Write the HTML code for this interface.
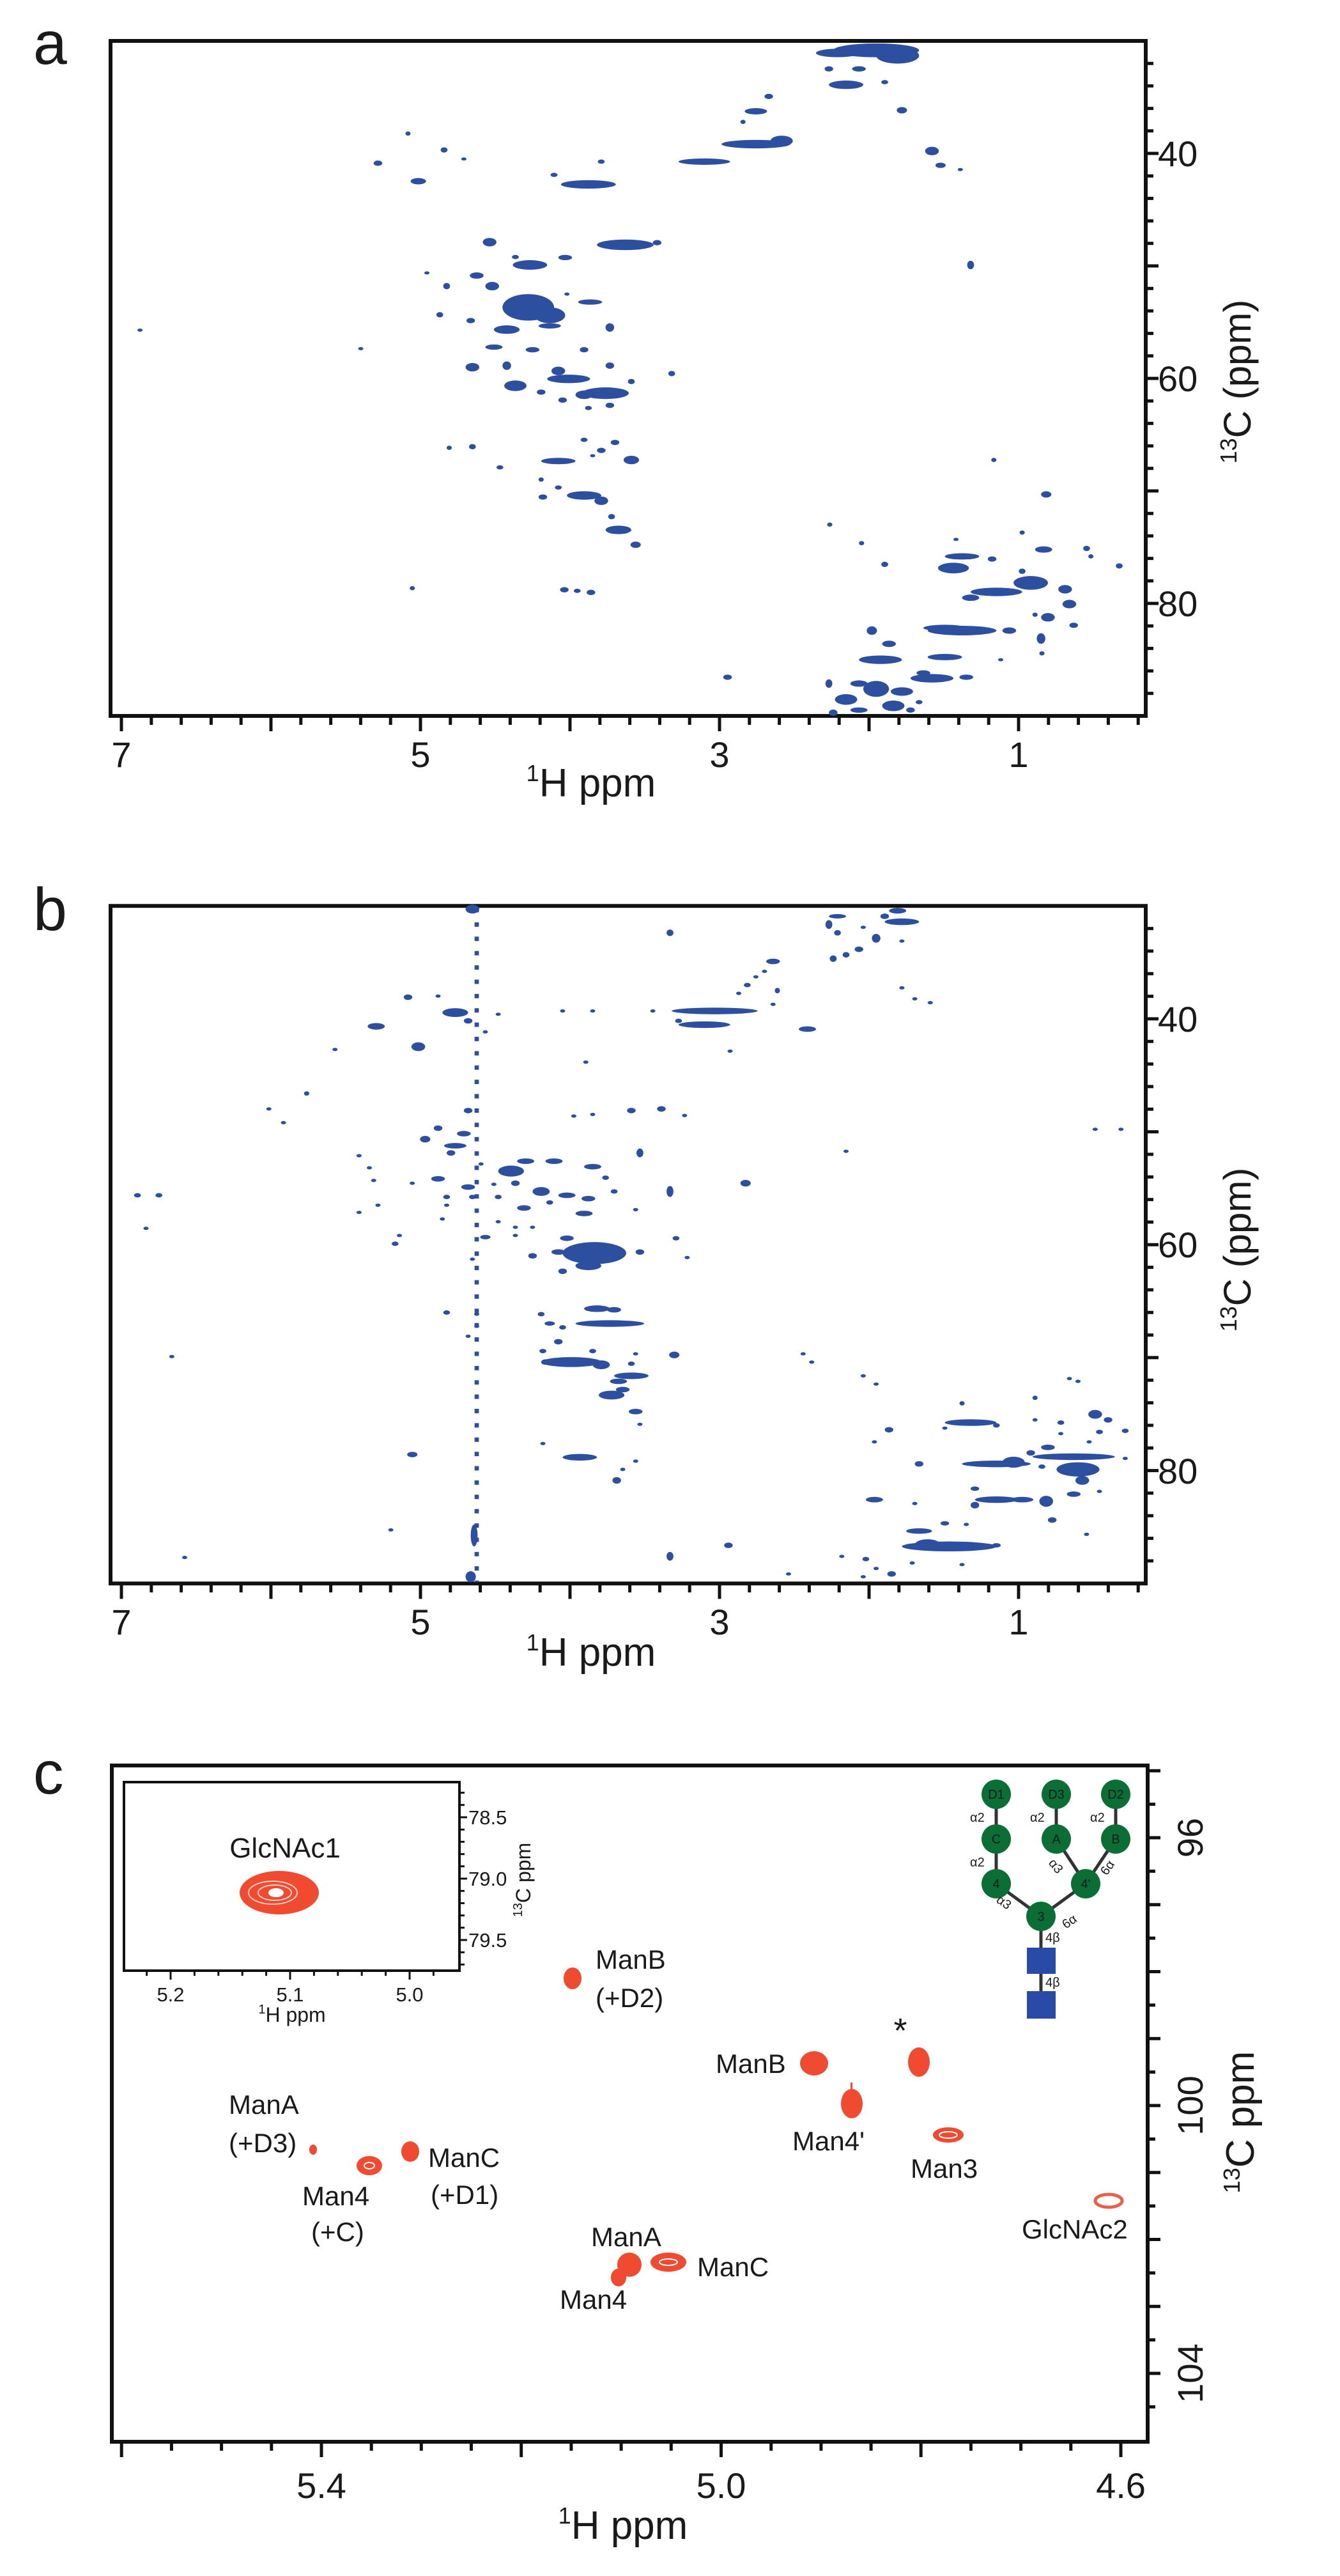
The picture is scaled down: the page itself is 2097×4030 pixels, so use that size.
<!DOCTYPE html>
<html><head><meta charset="utf-8"><style>
html,body{margin:0;padding:0;background:#fff}
svg{display:block}
text{font-family:"Liberation Sans",sans-serif;fill:#1a1a1a}
</style></head><body>
<svg width="2097" height="4030" viewBox="0 0 2097 4030" xmlns="http://www.w3.org/2000/svg">
<rect width="2097" height="4030" fill="#fff"/>
<defs>
<g id="axAB">
<rect x="173" y="64" width="1620" height="1056" fill="none" stroke="#111" stroke-width="6"/>
<path stroke="#111" stroke-width="5" fill="none" d="M190 1120v24M236.8 1120v14M283.6 1120v14M330.4 1120v14M377.2 1120v14M424 1120v24M470.8 1120v14M517.6 1120v14M564.4 1120v14M611.2 1120v14M658 1120v24M704.8 1120v14M751.6 1120v14M798.4 1120v14M845.2 1120v14M892 1120v24M938.8 1120v14M985.6 1120v14M1032.4 1120v14M1079.2 1120v14M1126 1120v24M1172.8 1120v14M1219.6 1120v14M1266.4 1120v14M1313.2 1120v14M1360 1120v24M1406.8 1120v14M1453.6 1120v14M1500.4 1120v14M1547.2 1120v14M1594 1120v24M1640.8 1120v14M1687.6 1120v14M1734.4 1120v14M1781.2 1120v14
M1793 99.2h12M1793 134.4h12M1793 169.6h12M1793 204.8h12M1793 240h20M1793 275.2h12M1793 310.4h12M1793 345.6h12M1793 380.8h12M1793 416h20M1793 451.2h12M1793 486.4h12M1793 521.6h12M1793 556.8h12M1793 592h20M1793 627.2h12M1793 662.4h12M1793 697.6h12M1793 732.8h12M1793 768h20M1793 803.2h12M1793 838.4h12M1793 873.6h12M1793 908.8h12M1793 944h20M1793 979.2h12M1793 1014.4h12M1793 1049.6h12M1793 1084.8h12"/>
</g>
</defs>

<!-- PANEL A -->
<text x="52" y="100" font-size="95">a</text>
<use href="#axAB"/>
<g font-size="56" text-anchor="middle">
<text x="190" y="1200">7</text><text x="658" y="1200">5</text><text x="1126" y="1200">3</text><text x="1594" y="1200">1</text>
</g>
<g font-size="56"><text x="1812" y="260">40</text><text x="1812" y="612">60</text><text x="1812" y="964">80</text></g>
<text x="925" y="1246" font-size="62" text-anchor="middle"><tspan font-size="36" dy="-24">1</tspan><tspan dy="24">H ppm</tspan></text>
<text transform="translate(1957,597) rotate(-90)" font-size="60" text-anchor="middle"><tspan font-size="36" dy="-22">13</tspan><tspan dy="22">C (ppm)</tspan></text>

<g fill="#2c4f9f" transform="scale(1.3442,0.829)">
<ellipse cx="1020" cy="95" rx="50" ry="13"/><ellipse cx="1045" cy="105" rx="25" ry="15"/><ellipse cx="975" cy="100" rx="25" ry="8"/><ellipse cx="965" cy="130" rx="5" ry="5"/><ellipse cx="1000" cy="130" rx="8" ry="5"/>
<ellipse cx="985" cy="160" rx="20" ry="8"/><ellipse cx="1030" cy="155" rx="4" ry="4"/><ellipse cx="1050" cy="208" rx="6" ry="6"/>
<ellipse cx="895" cy="182" rx="5" ry="5"/><ellipse cx="880" cy="210" rx="13" ry="6"/><ellipse cx="865" cy="230" rx="3" ry="4"/>
<ellipse cx="880" cy="272" rx="40" ry="8"/><ellipse cx="820" cy="305" rx="30" ry="6"/><ellipse cx="910" cy="266" rx="13" ry="10"/>
<ellipse cx="1085" cy="285" rx="8" ry="8"/><ellipse cx="1095" cy="312" rx="6" ry="5"/><ellipse cx="1118" cy="320" rx="3" ry="3"/>
<ellipse cx="475" cy="252" rx="3" ry="4"/><ellipse cx="517" cy="283" rx="4" ry="5"/><ellipse cx="540" cy="300" rx="3" ry="3"/><ellipse cx="440" cy="308" rx="5" ry="5"/>
<ellipse cx="487" cy="342" rx="9" ry="6"/><ellipse cx="685" cy="348" rx="32" ry="8"/><ellipse cx="645" cy="330" rx="4" ry="4"/><ellipse cx="700" cy="305" rx="4" ry="4"/>
<ellipse cx="570" cy="457" rx="8" ry="8"/><ellipse cx="728" cy="462" rx="33" ry="10"/><ellipse cx="765" cy="458" rx="5" ry="5"/>
<ellipse cx="617" cy="500" rx="20" ry="9"/><ellipse cx="658" cy="486" rx="8" ry="5"/><ellipse cx="600" cy="485" rx="4" ry="4"/>
<ellipse cx="497" cy="515" rx="3" ry="3"/><ellipse cx="555" cy="520" rx="8" ry="6"/><ellipse cx="573" cy="540" rx="8" ry="8"/><ellipse cx="520" cy="540" rx="4" ry="6"/>
<ellipse cx="615" cy="580" rx="30" ry="25"/><ellipse cx="640" cy="595" rx="18" ry="15"/><ellipse cx="687" cy="570" rx="14" ry="5"/><ellipse cx="660" cy="555" rx="3" ry="3"/>
<ellipse cx="512" cy="594" rx="4" ry="5"/><ellipse cx="548" cy="605" rx="5" ry="5"/><ellipse cx="590" cy="622" rx="15" ry="8"/><ellipse cx="640" cy="615" rx="13" ry="5"/><ellipse cx="710" cy="618" rx="5" ry="8"/>
<ellipse cx="575" cy="655" rx="10" ry="5"/><ellipse cx="620" cy="660" rx="8" ry="5"/><ellipse cx="680" cy="660" rx="5" ry="5"/>
<ellipse cx="420" cy="658" rx="3" ry="3"/><ellipse cx="163" cy="623" rx="3" ry="3"/><ellipse cx="782" cy="705" rx="4" ry="5"/>
<ellipse cx="550" cy="693" rx="8" ry="8"/><ellipse cx="590" cy="690" rx="5" ry="8"/><ellipse cx="650" cy="700" rx="8" ry="8"/><ellipse cx="710" cy="690" rx="5" ry="6"/><ellipse cx="735" cy="720" rx="4" ry="5"/>
<ellipse cx="600" cy="728" rx="13" ry="10"/><ellipse cx="662" cy="715" rx="25" ry="8"/><ellipse cx="705" cy="742" rx="27" ry="11"/><ellipse cx="680" cy="745" rx="10" ry="8"/>
<ellipse cx="630" cy="740" rx="5" ry="5"/><ellipse cx="655" cy="755" rx="5" ry="5"/><ellipse cx="685" cy="770" rx="4" ry="4"/><ellipse cx="710" cy="765" rx="5" ry="5"/>
<ellipse cx="523" cy="845" rx="3" ry="4"/><ellipse cx="550" cy="843" rx="4" ry="5"/><ellipse cx="582" cy="882" rx="4" ry="4"/>
<ellipse cx="680" cy="830" rx="4" ry="4"/><ellipse cx="700" cy="850" rx="5" ry="5"/><ellipse cx="716" cy="835" rx="5" ry="5"/><ellipse cx="690" cy="860" rx="3" ry="3"/>
<ellipse cx="650" cy="870" rx="20" ry="6"/><ellipse cx="735" cy="868" rx="9" ry="8"/><ellipse cx="630" cy="905" rx="3" ry="4"/>
<ellipse cx="632" cy="938" rx="5" ry="5"/><ellipse cx="650" cy="920" rx="4" ry="4"/><ellipse cx="680" cy="935" rx="20" ry="8"/><ellipse cx="700" cy="945" rx="8" ry="8"/>
<ellipse cx="712" cy="975" rx="4" ry="5"/><ellipse cx="720" cy="1000" rx="15" ry="8"/><ellipse cx="740" cy="1028" rx="6" ry="6"/>
<ellipse cx="480" cy="1110" rx="3" ry="4"/><ellipse cx="657" cy="1113" rx="5" ry="5"/><ellipse cx="672" cy="1115" rx="4" ry="4"/><ellipse cx="688" cy="1118" rx="5" ry="5"/>
<ellipse cx="966" cy="990" rx="3" ry="4"/><ellipse cx="1003" cy="1025" rx="3" ry="4"/><ellipse cx="1030" cy="1065" rx="4" ry="5"/><ellipse cx="1113" cy="1018" rx="3" ry="3"/>
<ellipse cx="1120" cy="1050" rx="20" ry="6"/><ellipse cx="1110" cy="1072" rx="18" ry="10"/><ellipse cx="1155" cy="1055" rx="5" ry="5"/><ellipse cx="1190" cy="1005" rx="3" ry="4"/><ellipse cx="1218" cy="933" rx="6" ry="6"/><ellipse cx="1157" cy="868" rx="3" ry="4"/><ellipse cx="1130" cy="500" rx="4" ry="8"/>
<ellipse cx="1215" cy="1037" rx="10" ry="6"/><ellipse cx="1265" cy="1035" rx="4" ry="5"/><ellipse cx="1270" cy="1050" rx="3" ry="4"/><ellipse cx="1303" cy="1068" rx="4" ry="5"/>
<ellipse cx="1200" cy="1100" rx="20" ry="13"/><ellipse cx="1190" cy="1078" rx="4" ry="5"/><ellipse cx="1160" cy="1117" rx="30" ry="8"/><ellipse cx="1240" cy="1112" rx="8" ry="8"/>
<ellipse cx="1130" cy="1128" rx="10" ry="6"/><ellipse cx="1245" cy="1140" rx="8" ry="8"/><ellipse cx="1220" cy="1165" rx="8" ry="8"/><ellipse cx="1250" cy="1180" rx="5" ry="5"/><ellipse cx="1205" cy="1160" rx="3" ry="4"/>
<ellipse cx="1120" cy="1190" rx="40" ry="9"/><ellipse cx="1100" cy="1185" rx="25" ry="6"/><ellipse cx="1175" cy="1190" rx="8" ry="6"/><ellipse cx="1212" cy="1205" rx="5" ry="10"/><ellipse cx="1213" cy="1233" rx="3" ry="4"/>
<ellipse cx="1015" cy="1190" rx="6" ry="8"/><ellipse cx="1035" cy="1215" rx="8" ry="6"/><ellipse cx="1025" cy="1245" rx="25" ry="8"/><ellipse cx="1100" cy="1240" rx="20" ry="6"/><ellipse cx="1165" cy="1245" rx="3" ry="3"/>
<ellipse cx="1085" cy="1280" rx="25" ry="8"/><ellipse cx="1075" cy="1270" rx="8" ry="5"/><ellipse cx="1125" cy="1278" rx="8" ry="5"/><ellipse cx="847" cy="1278" rx="5" ry="5"/>
<ellipse cx="965" cy="1290" rx="4" ry="8"/><ellipse cx="1000" cy="1290" rx="10" ry="6"/><ellipse cx="1020" cy="1300" rx="15" ry="15"/><ellipse cx="1050" cy="1305" rx="13" ry="8"/>
<ellipse cx="985" cy="1320" rx="13" ry="10"/><ellipse cx="1040" cy="1332" rx="13" ry="10"/><ellipse cx="970" cy="1345" rx="5" ry="6"/><ellipse cx="1000" cy="1340" rx="10" ry="5"/><ellipse cx="1060" cy="1340" rx="5" ry="5"/><ellipse cx="1070" cy="1325" rx="4" ry="4"/>
</g>

<!-- PANEL B -->
<text x="52" y="1455" font-size="95">b</text>
<use href="#axAB" transform="translate(0,1353) scale(1,1.0038)"/>
<g font-size="56" text-anchor="middle">
<text x="190" y="2557">7</text><text x="658" y="2557">5</text><text x="1126" y="2557">3</text><text x="1594" y="2557">1</text>
</g>
<g font-size="56"><text x="1812" y="1614">40</text><text x="1812" y="1967">60</text><text x="1812" y="2321">80</text></g>
<text x="925" y="2606" font-size="62" text-anchor="middle"><tspan font-size="36" dy="-24">1</tspan><tspan dy="24">H ppm</tspan></text>
<text transform="translate(1957,1955) rotate(-90)" font-size="60" text-anchor="middle"><tspan font-size="36" dy="-22">13</tspan><tspan dy="22">C (ppm)</tspan></text>

<g fill="#2c4f9f" transform="translate(0,1300) scale(1.3442,0.861)">
<line x1="555" y1="140" x2="555" y2="1365" stroke="#2c4f9f" stroke-width="5" stroke-dasharray="8 18"/>
<ellipse cx="550" cy="142" rx="8" ry="8"/><ellipse cx="552" cy="1280" rx="4" ry="20"/><ellipse cx="548" cy="1355" rx="6" ry="10"/>
<ellipse cx="780" cy="185" rx="4" ry="6"/><ellipse cx="975" cy="155" rx="10" ry="4"/><ellipse cx="965" cy="170" rx="4" ry="8"/><ellipse cx="975" cy="185" rx="4" ry="5"/><ellipse cx="1045" cy="145" rx="10" ry="5"/><ellipse cx="1050" cy="165" rx="20" ry="6"/><ellipse cx="1030" cy="155" rx="5" ry="5"/><ellipse cx="1005" cy="175" rx="3" ry="3"/><ellipse cx="1020" cy="195" rx="5" ry="8"/><ellipse cx="1000" cy="215" rx="5" ry="5"/><ellipse cx="985" cy="225" rx="4" ry="5"/><ellipse cx="970" cy="232" rx="4" ry="6"/><ellipse cx="1050" cy="200" rx="3" ry="3"/>
<ellipse cx="900" cy="237" rx="8" ry="5"/><ellipse cx="890" cy="255" rx="3" ry="3"/><ellipse cx="880" cy="265" rx="3" ry="3"/><ellipse cx="870" cy="280" rx="4" ry="4"/><ellipse cx="860" cy="295" rx="3" ry="3"/><ellipse cx="905" cy="290" rx="3" ry="5"/><ellipse cx="900" cy="315" rx="3" ry="3"/>
<ellipse cx="832" cy="327" rx="50" ry="6"/><ellipse cx="820" cy="352" rx="30" ry="6"/><ellipse cx="790" cy="345" rx="4" ry="4"/><ellipse cx="760" cy="327" rx="3" ry="3"/><ellipse cx="850" cy="400" rx="3" ry="3"/><ellipse cx="940" cy="360" rx="10" ry="5"/>
<ellipse cx="1050" cy="285" rx="3" ry="3"/><ellipse cx="1065" cy="305" rx="3" ry="3"/><ellipse cx="1083" cy="312" rx="3" ry="3"/>
<ellipse cx="475" cy="302" rx="5" ry="5"/><ellipse cx="510" cy="300" rx="3" ry="3"/><ellipse cx="530" cy="330" rx="15" ry="8"/><ellipse cx="545" cy="345" rx="5" ry="5"/><ellipse cx="580" cy="333" rx="3" ry="3"/><ellipse cx="565" cy="365" rx="3" ry="3"/><ellipse cx="655" cy="327" rx="3" ry="3"/><ellipse cx="690" cy="327" rx="3" ry="3"/>
<ellipse cx="438" cy="355" rx="10" ry="6"/><ellipse cx="487" cy="392" rx="8" ry="8"/><ellipse cx="390" cy="397" rx="3" ry="3"/><ellipse cx="682" cy="420" rx="3" ry="3"/>
<ellipse cx="357" cy="477" rx="3" ry="4"/><ellipse cx="313" cy="505" rx="3" ry="3"/><ellipse cx="330" cy="530" rx="3" ry="3"/>
<ellipse cx="545" cy="508" rx="5" ry="5"/><ellipse cx="735" cy="508" rx="5" ry="5"/><ellipse cx="770" cy="505" rx="5" ry="5"/><ellipse cx="797" cy="517" rx="3" ry="3"/><ellipse cx="690" cy="515" rx="3" ry="3"/><ellipse cx="668" cy="518" rx="3" ry="3"/>
<ellipse cx="510" cy="540" rx="5" ry="5"/><ellipse cx="540" cy="550" rx="8" ry="5"/><ellipse cx="495" cy="560" rx="6" ry="6"/><ellipse cx="530" cy="572" rx="13" ry="5"/><ellipse cx="525" cy="585" rx="5" ry="5"/><ellipse cx="745" cy="585" rx="4" ry="8"/><ellipse cx="985" cy="582" rx="3" ry="3"/><ellipse cx="1275" cy="542" rx="3" ry="3"/><ellipse cx="1305" cy="542" rx="3" ry="3"/>
<ellipse cx="418" cy="590" rx="3" ry="3"/><ellipse cx="430" cy="612" rx="3" ry="3"/><ellipse cx="435" cy="635" rx="3" ry="3"/><ellipse cx="440" cy="680" rx="3" ry="3"/><ellipse cx="418" cy="693" rx="3" ry="3"/>
<ellipse cx="480" cy="640" rx="3" ry="3"/><ellipse cx="510" cy="632" rx="8" ry="5"/><ellipse cx="545" cy="647" rx="8" ry="5"/><ellipse cx="560" cy="605" rx="3" ry="3"/>
<ellipse cx="595" cy="618" rx="15" ry="10"/><ellipse cx="612" cy="600" rx="10" ry="5"/><ellipse cx="645" cy="600" rx="10" ry="5"/><ellipse cx="690" cy="610" rx="10" ry="5"/><ellipse cx="705" cy="630" rx="4" ry="4"/>
<ellipse cx="575" cy="642" rx="3" ry="3"/><ellipse cx="600" cy="640" rx="5" ry="5"/><ellipse cx="630" cy="655" rx="10" ry="8"/><ellipse cx="660" cy="662" rx="10" ry="5"/><ellipse cx="685" cy="668" rx="8" ry="5"/><ellipse cx="715" cy="655" rx="4" ry="4"/>
<ellipse cx="520" cy="665" rx="4" ry="4"/><ellipse cx="520" cy="680" rx="3" ry="3"/><ellipse cx="550" cy="665" rx="4" ry="4"/><ellipse cx="580" cy="665" rx="4" ry="4"/><ellipse cx="610" cy="685" rx="8" ry="5"/><ellipse cx="640" cy="675" rx="4" ry="4"/><ellipse cx="680" cy="695" rx="10" ry="5"/><ellipse cx="740" cy="688" rx="3" ry="3"/><ellipse cx="780" cy="655" rx="4" ry="10"/><ellipse cx="868" cy="640" rx="6" ry="6"/>
<ellipse cx="160" cy="662" rx="4" ry="4"/><ellipse cx="185" cy="662" rx="4" ry="4"/><ellipse cx="170" cy="722" rx="3" ry="3"/>
<ellipse cx="515" cy="705" rx="3" ry="3"/><ellipse cx="580" cy="710" rx="3" ry="3"/><ellipse cx="600" cy="720" rx="3" ry="3"/><ellipse cx="565" cy="738" rx="6" ry="4"/><ellipse cx="600" cy="735" rx="3" ry="3"/><ellipse cx="620" cy="720" rx="3" ry="3"/><ellipse cx="660" cy="740" rx="8" ry="5"/><ellipse cx="787" cy="740" rx="4" ry="4"/><ellipse cx="465" cy="735" rx="3" ry="3"/><ellipse cx="460" cy="750" rx="4" ry="4"/>
<ellipse cx="692" cy="767" rx="37" ry="20"/><ellipse cx="650" cy="765" rx="8" ry="5"/><ellipse cx="620" cy="772" rx="5" ry="5"/><ellipse cx="655" cy="800" rx="5" ry="5"/><ellipse cx="685" cy="790" rx="15" ry="8"/><ellipse cx="745" cy="765" rx="5" ry="5"/><ellipse cx="800" cy="775" rx="3" ry="3"/><ellipse cx="550" cy="778" rx="3" ry="3"/>
<ellipse cx="520" cy="875" rx="4" ry="4"/><ellipse cx="555" cy="878" rx="3" ry="3"/><ellipse cx="555" cy="900" rx="3" ry="3"/><ellipse cx="545" cy="918" rx="3" ry="3"/>
<ellipse cx="695" cy="868" rx="15" ry="6"/><ellipse cx="715" cy="870" rx="8" ry="5"/><ellipse cx="630" cy="878" rx="4" ry="4"/><ellipse cx="640" cy="895" rx="6" ry="4"/><ellipse cx="710" cy="895" rx="40" ry="6"/><ellipse cx="655" cy="902" rx="4" ry="4"/>
<ellipse cx="650" cy="928" rx="5" ry="5"/><ellipse cx="632" cy="945" rx="4" ry="4"/><ellipse cx="690" cy="945" rx="4" ry="4"/><ellipse cx="740" cy="950" rx="3" ry="3"/><ellipse cx="785" cy="952" rx="6" ry="6"/><ellipse cx="935" cy="950" rx="3" ry="3"/><ellipse cx="945" cy="965" rx="3" ry="3"/>
<ellipse cx="665" cy="965" rx="35" ry="9"/><ellipse cx="700" cy="970" rx="10" ry="8"/><ellipse cx="735" cy="968" rx="4" ry="4"/><ellipse cx="635" cy="965" rx="5" ry="5"/><ellipse cx="200" cy="955" rx="3" ry="3"/>
<ellipse cx="735" cy="990" rx="20" ry="6"/><ellipse cx="720" cy="1000" rx="10" ry="5"/><ellipse cx="712" cy="1025" rx="15" ry="8"/><ellipse cx="725" cy="1015" rx="8" ry="5"/><ellipse cx="740" cy="1055" rx="8" ry="5"/><ellipse cx="745" cy="1078" rx="3" ry="3"/>
<ellipse cx="480" cy="1133" rx="6" ry="5"/><ellipse cx="675" cy="1138" rx="20" ry="6"/><ellipse cx="632" cy="1113" rx="3" ry="3"/><ellipse cx="740" cy="1145" rx="3" ry="3"/><ellipse cx="725" cy="1160" rx="3" ry="3"/><ellipse cx="718" cy="1180" rx="5" ry="6"/>
<ellipse cx="455" cy="1270" rx="3" ry="3"/><ellipse cx="215" cy="1320" rx="3" ry="3"/><ellipse cx="780" cy="1318" rx="4" ry="8"/><ellipse cx="848" cy="1298" rx="5" ry="5"/><ellipse cx="918" cy="1350" rx="3" ry="3"/><ellipse cx="980" cy="1318" rx="3" ry="3"/><ellipse cx="1008" cy="1323" rx="4" ry="4"/><ellipse cx="1005" cy="1355" rx="3" ry="3"/><ellipse cx="1038" cy="1350" rx="5" ry="5"/><ellipse cx="1020" cy="1340" rx="3" ry="3"/>
<ellipse cx="1005" cy="990" rx="3" ry="3"/><ellipse cx="1020" cy="1005" rx="3" ry="3"/><ellipse cx="1035" cy="1088" rx="5" ry="5"/><ellipse cx="1018" cy="1110" rx="3" ry="3"/><ellipse cx="1070" cy="1150" rx="5" ry="5"/><ellipse cx="1018" cy="1215" rx="10" ry="5"/><ellipse cx="1065" cy="1222" rx="3" ry="3"/>
<ellipse cx="1120" cy="1040" rx="3" ry="4"/><ellipse cx="1130" cy="1075" rx="30" ry="6"/><ellipse cx="1160" cy="1080" rx="4" ry="4"/><ellipse cx="1100" cy="1085" rx="3" ry="3"/><ellipse cx="1205" cy="1030" rx="3" ry="4"/><ellipse cx="1205" cy="1070" rx="3" ry="3"/><ellipse cx="1235" cy="1075" rx="4" ry="4"/><ellipse cx="1255" cy="1000" rx="3" ry="3"/><ellipse cx="1245" cy="995" rx="3" ry="3"/>
<ellipse cx="1275" cy="1060" rx="8" ry="8"/><ellipse cx="1290" cy="1070" rx="5" ry="5"/><ellipse cx="1310" cy="1090" rx="4" ry="4"/><ellipse cx="1280" cy="1092" rx="4" ry="4"/><ellipse cx="1268" cy="1110" rx="3" ry="3"/><ellipse cx="1235" cy="1095" rx="3" ry="3"/>
<ellipse cx="1160" cy="1150" rx="40" ry="6"/><ellipse cx="1180" cy="1147" rx="13" ry="10"/><ellipse cx="1250" cy="1137" rx="48" ry="6"/><ellipse cx="1220" cy="1120" rx="8" ry="5"/><ellipse cx="1255" cy="1160" rx="25" ry="13"/><ellipse cx="1200" cy="1130" rx="5" ry="5"/><ellipse cx="1213" cy="1155" rx="4" ry="4"/><ellipse cx="1260" cy="1180" rx="8" ry="8"/><ellipse cx="1310" cy="1140" rx="3" ry="3"/>
<ellipse cx="1135" cy="1195" rx="5" ry="4"/><ellipse cx="1160" cy="1215" rx="25" ry="6"/><ellipse cx="1135" cy="1225" rx="5" ry="6"/><ellipse cx="1190" cy="1215" rx="13" ry="5"/><ellipse cx="1218" cy="1218" rx="8" ry="10"/><ellipse cx="1250" cy="1205" rx="8" ry="5"/><ellipse cx="1280" cy="1200" rx="3" ry="3"/>
<ellipse cx="1100" cy="1258" rx="5" ry="4"/><ellipse cx="1125" cy="1260" rx="3" ry="3"/><ellipse cx="1070" cy="1272" rx="15" ry="5"/><ellipse cx="1105" cy="1300" rx="55" ry="9"/><ellipse cx="1080" cy="1297" rx="15" ry="10"/><ellipse cx="1160" cy="1298" rx="5" ry="4"/><ellipse cx="1120" cy="1333" rx="3" ry="3"/><ellipse cx="1062" cy="1330" rx="3" ry="3"/><ellipse cx="1225" cy="1252" rx="5" ry="5"/><ellipse cx="1265" cy="1278" rx="3" ry="3"/>
</g>

<!-- PANEL C -->
<text x="52" y="2806" font-size="95">c</text>
<rect x="175" y="2762" width="1621" height="1058" fill="none" stroke="#111" stroke-width="6"/>
<path stroke="#111" stroke-width="5" fill="none" d="M190.2 3820v24M268.4 3820v14M346.6 3820v14M424.8 3820v14M503 3820v24M581.2 3820v14M659.3 3820v14M737.5 3820v14M815.7 3820v24M893.9 3820v14M972.1 3820v14M1050.3 3820v14M1128.5 3820v24M1206.7 3820v14M1284.9 3820v14M1363.1 3820v14M1441.2 3820v24M1519.4 3820v14M1597.6 3820v14M1675.8 3820v14M1754 3820v24
M1796 2770.3h20M1796 2822.6h12M1796 2875h20M1796 2927.4h12M1796 2979.8h20M1796 3032.1h12M1796 3084.5h20M1796 3136.9h12M1796 3189.3h20M1796 3241.6h12M1796 3294h20M1796 3346.4h12M1796 3398.8h20M1796 3451.1h12M1796 3503.5h20M1796 3555.9h12M1796 3608.3h20M1796 3660.6h12M1796 3713h20M1796 3765.4h12"/>
<g font-size="56" text-anchor="middle"><text x="503" y="3908">5.4</text><text x="1128.5" y="3908">5.0</text><text x="1754" y="3908">4.6</text></g>
<g font-size="56" text-anchor="middle">
<text transform="translate(1882,2875) rotate(-90)">96</text>
<text transform="translate(1882,3294) rotate(-90)">100</text>
<text transform="translate(1882,3713) rotate(-90)">104</text>
</g>
<text x="975" y="3972" font-size="62" text-anchor="middle"><tspan font-size="36" dy="-24">1</tspan><tspan dy="24">H ppm</tspan></text>
<text transform="translate(1962,3320) rotate(-90)" font-size="62" text-anchor="middle"><tspan font-size="36" dy="-22">13</tspan><tspan dy="22">C ppm</tspan></text>

<!-- inset -->
<rect x="194" y="2788" width="525" height="295" fill="none" stroke="#111" stroke-width="4"/>
<path stroke="#111" stroke-width="3" fill="none" d="M229.6 3083v8M267 3083v14M304.4 3083v8M341.8 3083v8M379.2 3083v8M416.6 3083v8M454 3083v14M491.4 3083v8M528.8 3083v8M566.2 3083v8M603.6 3083v8M641 3083v14M678.4 3083v8
M719 2804.6h8M719 2823.8h8M719 2843h12M719 2862.2h8M719 2881.4h8M719 2900.6h8M719 2919.8h8M719 2939h12M719 2958.2h8M719 2977.4h8M719 2996.6h8M719 3015.8h8M719 3035h12M719 3054.2h8M719 3073.4h8"/>
<g font-size="31" text-anchor="middle"><text x="267" y="3131">5.2</text><text x="454" y="3131">5.1</text><text x="641" y="3131">5.0</text></g>
<g font-size="31"><text x="733" y="2854">78.5</text><text x="733" y="2950">79.0</text><text x="733" y="3046">79.5</text></g>
<text x="457" y="3163" font-size="32" text-anchor="middle"><tspan font-size="20" dy="-13">1</tspan><tspan dy="13">H ppm</tspan></text>
<text transform="translate(830,2941) rotate(-90)" font-size="32" text-anchor="middle"><tspan font-size="20" dy="-13">13</tspan><tspan dy="13">C ppm</tspan></text>
<text x="446" y="2906" font-size="44" text-anchor="middle">GlcNAc1</text>
<g>
<ellipse cx="437" cy="2961" rx="62" ry="34" fill="#f04b30"/>
<ellipse cx="427" cy="2961" rx="38" ry="18" fill="none" stroke="#ffd0c8" stroke-width="2"/>
<ellipse cx="430" cy="2961" rx="26" ry="12" fill="none" stroke="#ffd0c8" stroke-width="2"/>
<ellipse cx="432" cy="2961" rx="12" ry="7" fill="#fff"/>
</g>

<!-- peaks -->
<g fill="#f04b30">
<ellipse cx="896" cy="3095" rx="14" ry="17"/>
<ellipse cx="1274" cy="3228" rx="22" ry="19"/>
<ellipse cx="1438" cy="3226" rx="17" ry="23"/>
<ellipse cx="1333" cy="3291" rx="17" ry="23"/><rect x="1331" y="3258" width="3" height="12"/>
<ellipse cx="1484" cy="3340" rx="24" ry="12"/>
<ellipse cx="490" cy="3363" rx="6" ry="8"/>
<ellipse cx="578" cy="3388" rx="20" ry="15"/>
<ellipse cx="642" cy="3366" rx="14" ry="16"/>
<ellipse cx="985" cy="3543" rx="19" ry="19"/><ellipse cx="968" cy="3563" rx="12" ry="14"/>
<ellipse cx="1046" cy="3539" rx="28" ry="15"/>
</g>
<g fill="none" stroke="#fff" stroke-width="2">
<ellipse cx="1484" cy="3340" rx="14" ry="5"/><ellipse cx="578" cy="3388" rx="8" ry="5"/><ellipse cx="1046" cy="3539" rx="14" ry="5"/>
</g>
<ellipse cx="1735" cy="3443" rx="21" ry="10" fill="#fff" stroke="#e8604a" stroke-width="5"/>

<g font-size="42">
<text x="932" y="3080">ManB</text><text x="932" y="3140">(+D2)</text>
<text x="1120" y="3243">ManB</text>
<text x="1240" y="3364">Man4'</text>
<text x="1425" y="3407">Man3</text>
<text x="1599" y="3502">GlcNAc2</text>
<text x="358" y="3307">ManA</text><text x="358" y="3367">(+D3)</text>
<text x="473" y="3450">Man4</text><text x="487" y="3506">(+C)</text>
<text x="670" y="3390">ManC</text><text x="674" y="3448">(+D1)</text>
<text x="925" y="3514">ManA</text>
<text x="876" y="3612">Man4</text>
<text x="1091" y="3561">ManC</text>
</g>
<text x="1409" y="3195" font-size="54" text-anchor="middle">*</text>

<!-- glycan -->
<g stroke="#333" stroke-width="5" fill="none">
<path d="M1559 2807V2947M1653 2807V2877L1699 2947M1746 2807V2877L1699 2947M1559 2947L1629 2998L1699 2947M1629 2998V3140"/>
</g>
<g fill="#0b6e35">
<circle cx="1559" cy="2807" r="23"/><circle cx="1653" cy="2807" r="23"/><circle cx="1746" cy="2807" r="23"/>
<circle cx="1559" cy="2877" r="23"/><circle cx="1653" cy="2877" r="23"/><circle cx="1746" cy="2877" r="23"/>
<circle cx="1559" cy="2947" r="23"/><circle cx="1699" cy="2947" r="23"/><circle cx="1629" cy="2998" r="23"/>
</g>
<g fill="#2a4aa8"><rect x="1607" y="3047" width="45" height="41"/><rect x="1607" y="3115" width="45" height="43"/></g>
<g font-size="20" text-anchor="middle" style="fill:#bff0d0">
<text x="1559" y="2814">D1</text><text x="1653" y="2814">D3</text><text x="1746" y="2814">D2</text>
<text x="1559" y="2884">C</text><text x="1653" y="2884">A</text><text x="1746" y="2884">B</text>
<text x="1559" y="2954">4</text><text x="1699" y="2954">4'</text><text x="1629" y="3005">3</text>
</g>
<g font-size="20" style="fill:#777">
<text x="1518" y="2850">α2</text><text x="1612" y="2850">α2</text><text x="1706" y="2850">α2</text>
<text x="1518" y="2920">α2</text>
<text transform="translate(1640,2915) rotate(50)">α3</text>
<text transform="translate(1732,2935) rotate(-55)">6α</text>
<text transform="translate(1558,2975) rotate(35)">α3</text>
<text transform="translate(1668,3018) rotate(-35)">6α</text>
<text x="1636" y="3038">4β</text><text x="1636" y="3108">4β</text>
</g>
</svg>
</body></html>
